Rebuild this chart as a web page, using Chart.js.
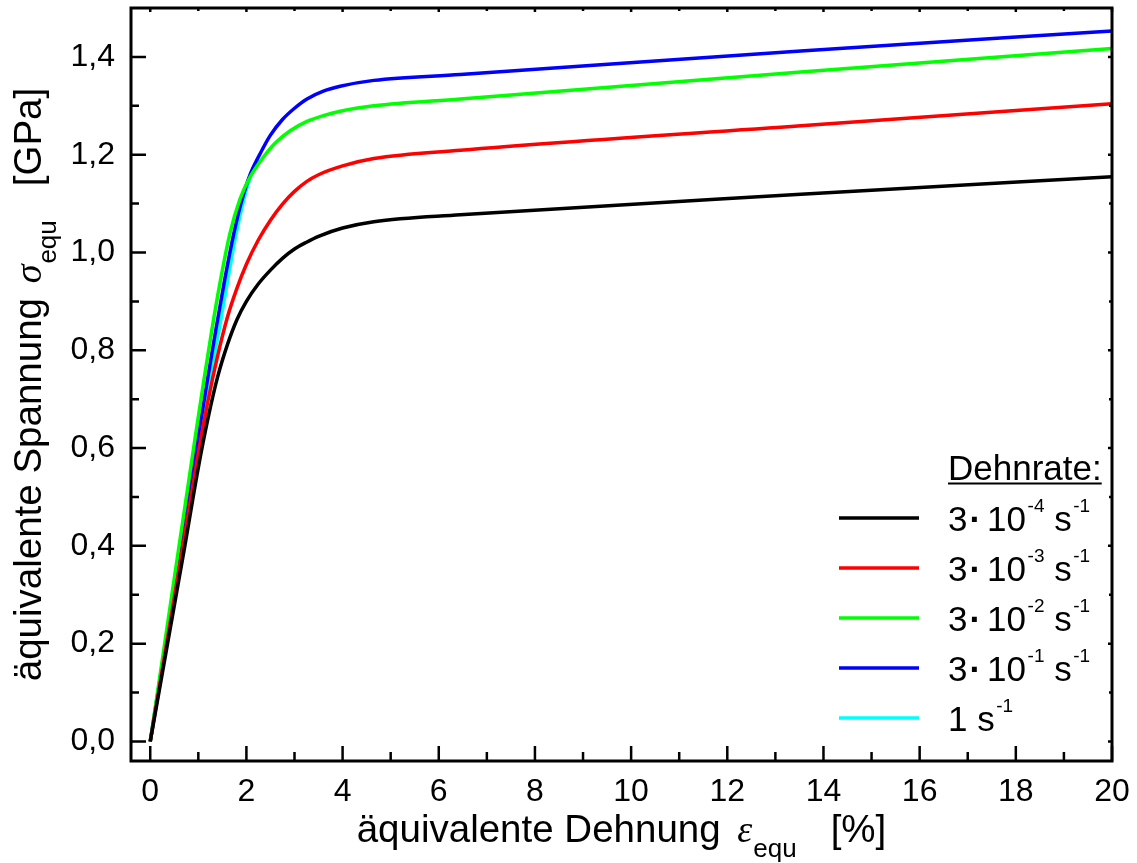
<!DOCTYPE html>
<html>
<head>
<meta charset="utf-8">
<title>Spannung-Dehnung</title>
<script src="https://cdn.jsdelivr.net/npm/chart.js@4.4.0/dist/chart.umd.min.js"></script>
<style>
  html, body { margin: 0; padding: 0; background: #fff; }
  canvas { display: block; }
</style>
</head>
<body>
<canvas id="chart" width="1137" height="863"></canvas>
<script>
// Werte: Dehnung in %, Spannung in GPa
const strain_4 = [0, 0.36, 0.72, 1.0, 1.2, 1.4, 1.6, 1.8, 2.0, 2.25, 2.5, 2.75, 3.0, 3.25, 3.5, 4.0, 4.65, 6.45, 13.53, 20]
const stress_4 = [0, 0.2, 0.4, 0.56, 0.66, 0.745, 0.81, 0.862, 0.90, 0.936, 0.964, 0.988, 1.007, 1.021, 1.033, 1.050, 1.063, 1.077, 1.119, 1.155]

const strain_3 = [0, 0.34, 0.68, 1.0, 1.2, 1.4, 1.6, 1.8, 2.0, 2.25, 2.5, 2.75, 3.0, 3.25, 3.5, 4.0, 4.65, 6.45, 13.53, 20]
const stress_3 = [0, 0.2, 0.4, 0.59, 0.696, 0.788, 0.866, 0.926, 0.976, 1.026, 1.066, 1.099, 1.125, 1.145, 1.159, 1.177, 1.192, 1.209, 1.259, 1.304]

const strain_2 = [0, 0.30, 0.60, 0.94, 1.11, 1.28, 1.46, 1.66, 1.87, 2.08, 2.36, 2.6, 2.91, 3.26, 3.6, 3.95, 4.65, 6.45, 13.53, 20]
const stress_2 = [0, 0.2, 0.4, 0.625, 0.735, 0.841, 0.943, 1.040, 1.11, 1.155, 1.196, 1.224, 1.249, 1.268, 1.280, 1.289, 1.300, 1.314, 1.369, 1.417]

const strain_1 = [0, 0.32, 0.64, 1.02, 1.19, 1.37, 1.55, 1.73, 1.90, 2.08, 2.29, 2.50, 2.75, 3.0, 3.26, 3.6, 3.95, 4.65, 6.45, 13.53, 20]
const stress_1 = [0, 0.2, 0.4, 0.636, 0.74, 0.845, 0.945, 1.035, 1.105, 1.16, 1.203, 1.24, 1.272, 1.295, 1.314, 1.330, 1.340, 1.352, 1.364, 1.412, 1.453]

const strain_0 = [0, 0.32, 0.65, 0.99, 1.24, 1.43, 1.61, 1.79, 1.95, 2.10, 2.25]
const stress_0 = [0, 0.2, 0.4, 0.6, 0.738, 0.841, 0.943, 1.04, 1.11, 1.16, 1.19]

const rateLabels = ["3·10^{-4} s^{-1}", "3·10^{-3} s^{-1}", "3·10^{-2} s^{-1}", "3·10^{-1} s^{-1}", "1 s^{-1}"]
const rateColors = ["#000000", "#ff0000", "#00ff00", "#0000ff", "#00ffff"]

const xTicks = [0, 2, 4, 6, 8, 10, 12, 14, 16, 18, 20]
const xMinor = [1, 3, 5, 7, 9, 11, 13, 15, 17, 19]
const yTicks = [0, 0.2, 0.4, 0.6, 0.8, 1.0, 1.2, 1.4]
const yMinor = [0.1, 0.3, 0.5, 0.7, 0.9, 1.1, 1.3]

const SANS = '"Liberation Sans", Arial, sans-serif'
const SERIF = '"Liberation Serif", "Times New Roman", serif'

function pts(xs, ys) {
  return xs.map((x, i) => ({ x: x, y: ys[i] }))
}

let series = [
  pts(strain_4, stress_4),
  pts(strain_3, stress_3),
  pts(strain_2, stress_2),
  pts(strain_1, stress_1),
  pts(strain_0, stress_0)
]

let datasets = series.map((d, i) => ({
  label: rateLabels[i],
  data: d,
  showLine: true,
  borderColor: rateColors[i],
  backgroundColor: rateColors[i],
  borderWidth: 3.5,
  pointRadius: 0,
  cubicInterpolationMode: 'monotone',
  fill: false
}))

// text pieces: {t, font, dy, gap}
function drawParts(ctx, parts, x, y, align) {
  let total = 0
  parts.forEach(p => {
    ctx.font = p.font
    p.w = ctx.measureText(p.t).width
    total += (p.gap || 0) + p.w
  })
  let cx = align === 'center' ? x - total / 2 : x
  ctx.textAlign = 'left'
  ctx.textBaseline = 'alphabetic'
  parts.forEach(p => {
    cx += p.gap || 0
    ctx.font = p.font
    ctx.fillText(p.t, cx, y + (p.dy || 0))
    cx += p.w
  })
  return total
}

// "3·10^{-4} s^{-1}" -> parts
function parseLabel(str, size) {
  let parts = []
  let main = size + 'px ' + SANS
  let sup = Math.round(size * 0.54) + 'px ' + SANS
  let re = /\^\{([^}]*)\}|([^\^·]+)|(·)/g
  let m
  while ((m = re.exec(str)) !== null) {
    if (m[1] !== undefined) parts.push({ t: m[1], font: sup, dy: -19, gap: 1.5 })
    else if (m[3] !== undefined) parts.push({ t: '·', font: 'bold ' + main, gap: 2 })
    else {
      let g = parts.length && parts[parts.length - 1].t === '·' ? 6 : 0
      parts.push({ t: m[2], font: main, gap: g })
    }
  }
  return parts
}

const framePlugin = {
  id: 'frame',
  afterDatasetsDraw(chart) {
    const ctx = chart.ctx
    const a = chart.chartArea
    const xs = chart.scales.x, ys = chart.scales.y
    ctx.save()
    ctx.strokeStyle = '#000'
    ctx.lineCap = 'butt'

    // Achsenrahmen
    ctx.lineWidth = 3
    ctx.strokeRect(a.left, a.top, a.right - a.left, a.bottom - a.top)

    ctx.lineWidth = 2.5
    ctx.beginPath()
    xTicks.forEach(v => {
      let px = xs.getPixelForValue(v)
      ctx.moveTo(px, a.bottom); ctx.lineTo(px, a.bottom - 15)
      ctx.moveTo(px, a.top); ctx.lineTo(px, a.top + 4)
    })
    xMinor.forEach(v => {
      let px = xs.getPixelForValue(v)
      ctx.moveTo(px, a.bottom); ctx.lineTo(px, a.bottom - 9)
      ctx.moveTo(px, a.top); ctx.lineTo(px, a.top + 3)
    })
    yTicks.forEach(v => {
      let py = ys.getPixelForValue(v)
      ctx.moveTo(a.left, py); ctx.lineTo(a.left + 15, py)
      ctx.moveTo(a.right, py); ctx.lineTo(a.right - 4, py)
    })
    yMinor.forEach(v => {
      let py = ys.getPixelForValue(v)
      ctx.moveTo(a.left, py); ctx.lineTo(a.left + 8, py)
      ctx.moveTo(a.right, py); ctx.lineTo(a.right - 3, py)
    })
    ctx.stroke()
    ctx.restore()
  },
  afterDraw(chart) {
    const ctx = chart.ctx
    const a = chart.chartArea
    ctx.save()
    ctx.fillStyle = '#000'

    // x-Achsentitel
    drawParts(ctx, [
      { t: 'äquivalente Dehnung ', font: '38.5px ' + SANS },
      { t: 'ε', font: 'italic 38px ' + SERIF, gap: 6 },
      { t: 'equ', font: '26px ' + SANS, dy: 15, gap: 1 },
      { t: '[%]', font: '38.5px ' + SANS, gap: 34 }
    ], (a.left + a.right) / 2, 842, 'center')

    // y-Achsentitel
    ctx.save()
    ctx.translate(41, (a.top + a.bottom) / 2)
    ctx.rotate(-Math.PI / 2)
    drawParts(ctx, [
      { t: 'äquivalente Spannung ', font: '38.5px ' + SANS },
      { t: 'σ', font: 'italic 38px ' + SERIF, gap: 4 },
      { t: 'equ', font: '26px ' + SANS, dy: 15, gap: 1 },
      { t: '[GPa]', font: '38.5px ' + SANS, gap: 34 }
    ], 0, 0, 'center')
    ctx.restore()

    // Legende
    let lx = 948
    ctx.font = '35px ' + SANS
    ctx.textAlign = 'left'
    ctx.textBaseline = 'alphabetic'
    ctx.fillText('Dehnrate:', lx, 480)
    let w = ctx.measureText('Dehnrate:').width
    ctx.fillRect(lx, 482.5, w, 2)

    rateLabels.forEach((lab, i) => {
      let ly = 518 + i * 50
      ctx.strokeStyle = rateColors[i]
      ctx.lineWidth = 3.5
      ctx.beginPath()
      ctx.moveTo(839, ly); ctx.lineTo(919, ly)
      ctx.stroke()
      drawParts(ctx, parseLabel(lab, 35), lx, ly + 13, 'left')
    })
    ctx.restore()
  }
}

new Chart(document.getElementById('chart'), {
  type: 'scatter',
  data: { datasets: datasets },
  options: {
    responsive: false,
    animation: false,
    layout: { padding: { top: 8, right: 25, left: 0, bottom: 0 } },
    plugins: {
      legend: { display: false },
      tooltip: { enabled: false }
    },
    scales: {
      x: {
        type: 'linear',
        min: -0.4,
        max: 20,
        afterBuildTicks: s => { s.ticks = xTicks.map(v => ({ value: v })) },
        afterFit: s => { s.height = 102; s.paddingLeft = 0; s.paddingRight = 0 },
        grid: { display: false, drawTicks: false },
        border: { display: false },
        ticks: {
          color: '#000',
          padding: 12,
          maxRotation: 0,
          autoSkip: false,
          font: { family: SANS, size: 32 },
          callback: v => String(v)
        }
      },
      y: {
        type: 'linear',
        min: -0.04,
        max: 1.5,
        afterBuildTicks: s => { s.ticks = yTicks.map(v => ({ value: v })) },
        afterFit: s => { s.width = 131; s.paddingTop = 0; s.paddingBottom = 0 },
        grid: { display: false, drawTicks: false },
        border: { display: false },
        ticks: {
          color: '#000',
          padding: 16,
          autoSkip: false,
          font: { family: SANS, size: 32 },
          callback: v => v.toFixed(1).replace('.', ',')
        }
      }
    }
  },
  plugins: [framePlugin]
})
</script>
</body>
</html>
